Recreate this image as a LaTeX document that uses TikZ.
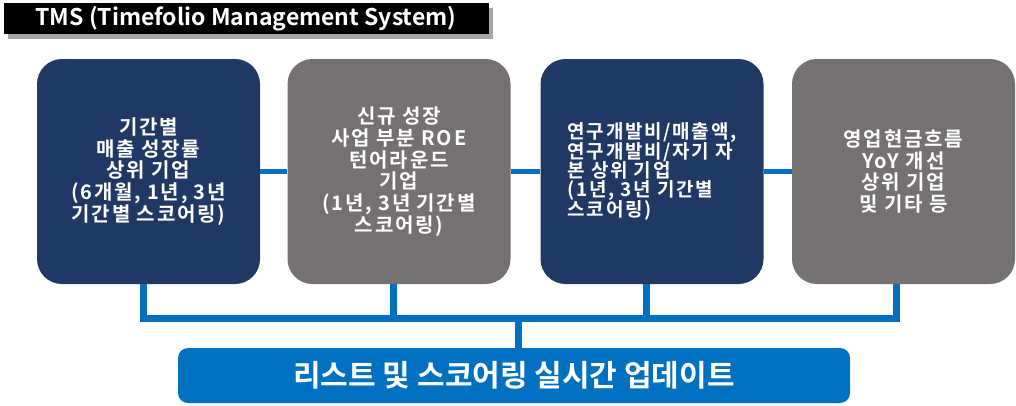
\documentclass[tikz,border=0pt]{standalone}
\usepackage{fontspec}
\setmainfont{Noto Sans CJK KR}[BoldFont={* Bold}]
\newfontfamily\cardfont{Noto Sans CJK KR}[BoldFont={* Bold}, LetterSpace=9]
\newcommand\tightlines{\lineskiplimit=-30pt\relax}
\usetikzlibrary{shadows}

\definecolor{navy}{HTML}{203864}
\definecolor{slate}{HTML}{767171}
\definecolor{linkblue}{HTML}{0070C0}

\tikzset{
  card/.style={rounded corners=25pt, minimum width=223pt, minimum height=225pt,
    inner sep=0pt, text=white, align=center,
    font=\cardfont\bfseries\fontsize{20}{21.7}\selectfont\tightlines},
  cardleft/.style={card, align=left,
    font=\cardfont\bfseries\fontsize{19}{19.3}\selectfont\tightlines},
  titlebar/.style={fill=black, minimum width=485pt, minimum height=31pt,
    inner sep=0pt, text=white, font=\bfseries\fontsize{23}{24}\selectfont,
    drop shadow={shadow xshift=4pt, shadow yshift=-5pt, fill=gray!70, opacity=1}},
  updbar/.style={fill=linkblue, rounded corners=10pt, minimum width=672pt,
    minimum height=55pt, inner sep=0pt, text=white,
    font=\bfseries\fontsize{30}{32}\selectfont},
  link/.style={linkblue, line width=5pt},
  bus/.style={linkblue, line width=7pt},
}

\begin{document}
\begin{tikzpicture}[x=1pt,y=-1pt]
\useasboundingbox (0,0) rectangle (1016,405);

\node[titlebar] (title) at (246,18.5) {TMS (Timefolio Management System)};

% the four screening groups
\node[card, fill=navy]      (b1) at (148.5,171.5) {기간별\\매출 성장률\\상위 기업\\(6개월, 1년, 3년\\기간별 스코어링)};
\node[card, fill=slate]     (b2) at (399,171.5)   {신규 성장\\사업 부분 ROE\\턴어라운드\\기업\\(1년, 3년 기간별\\스코어링)};
\node[cardleft, fill=navy]  (b3) at (652,171.5)   {연구개발비/매출액,\\연구개발비/자기 자\\본 상위 기업\\(1년, 3년 기간별\\스코어링)};
\node[card, fill=slate]     (b4) at (903.5,171.5) {영업현금흐름\\YoY 개선\\상위 기업\\및 기타 등};

\draw[link] (b1) -- (b2);
\draw[link] (b2) -- (b3);
\draw[link] (b3) -- (b4);

\node[updbar] (upd) at (514,375.5) {리스트 및 스코어링 실시간 업데이트};

% bracket into the update bar
\coordinate (bus) at (518,318.5);
\draw[bus] ([xshift=-5]b1.south) |- (bus) -| ([xshift=-7]b4.south);
\draw[bus] ([xshift=-6]b2.south) -- ([xshift=-6]b2.south |- bus);
\draw[bus] ([xshift=-6]b3.south) -- ([xshift=-6]b3.south |- bus);
\draw[bus] (bus) -- (bus |- upd.north);

\end{tikzpicture}
\end{document}
